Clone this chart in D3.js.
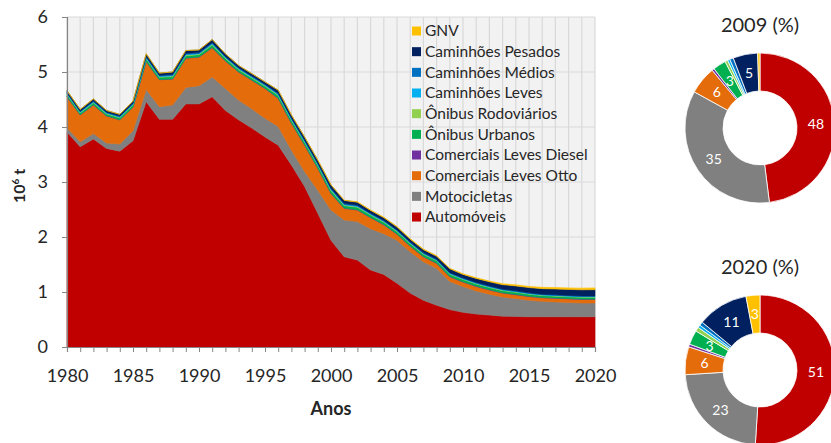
<!DOCTYPE html>
<html>
<head>
<meta charset="utf-8">
<script src="https://cdn.jsdelivr.net/npm/d3@7"></script>
<style>
  body { margin: 0; background: #fff; }
  svg text { font-family: Lato, "Open Sans", sans-serif; fill: #262626; }
</style>
</head>
<body>
<div id="chart"></div>
<script>
var years = d3.range(1980, 2021);

var keys = ["Automóveis", "Motocicletas", "Comerciais Leves Otto", "Comerciais Leves Diesel",
            "Ônibus Urbanos", "Ônibus Rodoviários", "Caminhões Leves", "Caminhões Médios",
            "Caminhões Pesados", "GNV"];
var colors = ["#c00000", "#808080", "#e46c0a", "#7030a0", "#00b050",
              "#92d050", "#00b0f0", "#0070c0", "#002060", "#ffc000"];

// 10^6 t, 1980..2020
var automoveis = [3.91, 3.64, 3.78, 3.61, 3.56, 3.75, 4.46, 4.14, 4.14, 4.42,
                  4.42, 4.55, 4.30, 4.13, 3.98, 3.82, 3.67, 3.31, 2.92, 2.43,
                  1.94, 1.64, 1.58, 1.40, 1.32, 1.16, 0.98, 0.85, 0.76, 0.68,
                  0.63, 0.60, 0.58, 0.56, 0.555, 0.55, 0.55, 0.55, 0.55, 0.55, 0.55];
var motocicletas = [0.07, 0.09, 0.10, 0.10, 0.13, 0.18, 0.22, 0.23, 0.26, 0.30,
                    0.33, 0.36, 0.40, 0.36, 0.35, 0.34, 0.34, 0.27, 0.27, 0.42,
                    0.55, 0.67, 0.70, 0.75, 0.74, 0.78, 0.75, 0.70, 0.67, 0.51,
                    0.47, 0.42, 0.38, 0.35, 0.325, 0.30, 0.28, 0.27, 0.26, 0.25, 0.25];
var comOtto = [0.57, 0.49, 0.52, 0.49, 0.44, 0.43, 0.51, 0.49, 0.47, 0.53,
               0.52, 0.53, 0.50, 0.51, 0.52, 0.54, 0.51, 0.49, 0.48, 0.40,
               0.30, 0.21, 0.21, 0.20, 0.16, 0.11, 0.10, 0.09, 0.09, 0.085,
               0.08, 0.08, 0.075, 0.07, 0.07, 0.067, 0.065, 0.065, 0.065, 0.065, 0.065];
var comDiesel = [0.004, 0.004, 0.004, 0.004, 0.004, 0.004, 0.005, 0.005, 0.005, 0.005,
                 0.005, 0.006, 0.005, 0.005, 0.005, 0.005, 0.006, 0.006, 0.006, 0.006,
                 0.006, 0.006, 0.006, 0.006, 0.006, 0.006, 0.006, 0.006, 0.006, 0.007,
                 0.007, 0.007, 0.007, 0.007, 0.007, 0.006, 0.006, 0.006, 0.006, 0.006, 0.006];
var onibusUrb = [0.035, 0.032, 0.035, 0.033, 0.033, 0.035, 0.042, 0.038, 0.040, 0.042,
                 0.040, 0.045, 0.040, 0.038, 0.038, 0.038, 0.046, 0.046, 0.045, 0.045,
                 0.047, 0.044, 0.044, 0.042, 0.042, 0.041, 0.041, 0.041, 0.041, 0.042,
                 0.041, 0.040, 0.039, 0.038, 0.037, 0.036, 0.035, 0.034, 0.033, 0.033, 0.032];
var onibusRod = [0.012, 0.011, 0.012, 0.011, 0.011, 0.012, 0.015, 0.013, 0.014, 0.015,
                 0.014, 0.016, 0.014, 0.013, 0.013, 0.013, 0.016, 0.016, 0.015, 0.015,
                 0.016, 0.014, 0.014, 0.013, 0.013, 0.012, 0.011, 0.011, 0.011, 0.010,
                 0.010, 0.010, 0.010, 0.010, 0.010, 0.010, 0.009, 0.009, 0.009, 0.009, 0.009];
var camLeves = [0.008, 0.008, 0.008, 0.008, 0.008, 0.008, 0.010, 0.009, 0.009, 0.010,
                0.009, 0.010, 0.009, 0.009, 0.009, 0.009, 0.010, 0.010, 0.010, 0.010,
                0.010, 0.009, 0.009, 0.008, 0.008, 0.008, 0.008, 0.007, 0.007, 0.007,
                0.007, 0.007, 0.007, 0.007, 0.007, 0.006, 0.006, 0.006, 0.006, 0.006, 0.006];
var camMedios = [0.013, 0.012, 0.013, 0.012, 0.012, 0.013, 0.016, 0.014, 0.015, 0.016,
                 0.015, 0.017, 0.015, 0.014, 0.014, 0.014, 0.016, 0.016, 0.016, 0.015,
                 0.016, 0.015, 0.015, 0.013, 0.013, 0.012, 0.012, 0.011, 0.011, 0.010,
                 0.010, 0.010, 0.010, 0.010, 0.010, 0.010, 0.009, 0.009, 0.009, 0.009, 0.009];
var camPesados = [0.038, 0.033, 0.038, 0.032, 0.032, 0.038, 0.052, 0.041, 0.047, 0.052,
                  0.047, 0.056, 0.047, 0.041, 0.041, 0.041, 0.055, 0.054, 0.055, 0.055,
                  0.060, 0.056, 0.055, 0.050, 0.049, 0.051, 0.052, 0.054, 0.054, 0.070,
                  0.064, 0.073, 0.077, 0.081, 0.090, 0.095, 0.101, 0.105, 0.109, 0.112, 0.116];
var gnv = [0, 0, 0, 0, 0, 0, 0, 0, 0, 0,
           0, 0, 0, 0, 0, 0, 0.001, 0.002, 0.003, 0.004,
           0.005, 0.006, 0.007, 0.008, 0.009, 0.010, 0.010, 0.010, 0.010, 0.009,
           0.011, 0.013, 0.015, 0.017, 0.019, 0.022, 0.024, 0.026, 0.028, 0.030, 0.032];

// participação (%) nos anos dos gráficos de rosca, mesma ordem de keys
var pct2009 = [48, 35, 6, 0.5, 2.8, 0.6, 0.5, 0.8, 5.3, 0.5];
var pct2020 = [51, 23, 6, 0.6, 3.1, 0.9, 0.6, 0.8, 11, 3];

var yTicks = [0, 1, 2, 3, 4, 5, 6];
var xTicks = [1980, 1985, 1990, 1995, 2000, 2005, 2010, 2015, 2020];

var series = [automoveis, motocicletas, comOtto, comDiesel, onibusUrb,
              onibusRod, camLeves, camMedios, camPesados, gnv];
var data = years.map(function(y, i) {
  var row = {ano: y};
  keys.forEach(function(k, j) { row[k] = series[j][i]; });
  return row;
});

var svg = d3.select("#chart").append("svg")
  .attr("width", 831)
  .attr("height", 443);

var plot = {left: 67, right: 595, top: 17, bottom: 347};
var x = d3.scaleLinear().domain([1980, 2020]).range([plot.left, plot.right]);
var y = d3.scaleLinear().domain([0, 6]).range([plot.bottom, plot.top]);

// plot area
svg.append("rect")
  .attr("x", plot.left).attr("y", plot.top)
  .attr("width", plot.right - plot.left).attr("height", plot.bottom - plot.top)
  .attr("fill", "#f2f2f2");

svg.append("g").selectAll("line")
  .data(years)
  .enter().append("line")
  .attr("x1", function(d) { return x(d); })
  .attr("x2", function(d) { return x(d); })
  .attr("y1", plot.top).attr("y2", plot.bottom)
  .attr("stroke", "#d9d9d9")
  .attr("stroke-width", 1.2);

svg.append("g").selectAll("line")
  .data(yTicks.slice(1))
  .enter().append("line")
  .attr("x1", plot.left).attr("x2", plot.right)
  .attr("y1", function(d) { return y(d); })
  .attr("y2", function(d) { return y(d); })
  .attr("stroke", "#d9d9d9")
  .attr("stroke-width", 1.2);

var stack = d3.stack().keys(keys);
var layers = stack(data);

var area = d3.area()
  .x(function(d) { return x(d.data.ano); })
  .y0(function(d) { return y(d[0]); })
  .y1(function(d) { return y(d[1]); });

svg.append("g").selectAll("path")
  .data(layers)
  .enter().append("path")
  .attr("d", area)
  .attr("fill", function(d, i) { return colors[i]; })
  .attr("stroke", function(d, i) { return colors[i]; })
  .attr("stroke-width", 0.6);

// axes
var xAxis = d3.axisBottom(x).tickValues(years).tickSize(5)
  .tickFormat(function(d) { return xTicks.indexOf(d) >= 0 ? d : ""; });
var yAxis = d3.axisLeft(y).tickValues(yTicks).tickSize(5).tickFormat(d3.format("d"));

var gx = svg.append("g")
  .attr("transform", "translate(0," + plot.bottom + ")")
  .call(xAxis);
var gy = svg.append("g")
  .attr("transform", "translate(" + plot.left + ",0)")
  .call(yAxis);

[gx, gy].forEach(function(g) {
  g.select(".domain").attr("stroke", "#868686").attr("stroke-width", 1.2);
  g.selectAll(".tick line").attr("stroke", "#868686");
  g.selectAll(".tick text").attr("font-size", 18).attr("fill", "#262626")
    .style("font-family", "Lato, sans-serif");
});
gx.selectAll(".tick text").attr("dy", 0).attr("y", 34.5);
gy.selectAll(".tick text").attr("x", -19);

svg.append("text")
  .attr("transform", "translate(25,186) rotate(-90)")
  .attr("text-anchor", "middle")
  .attr("font-size", 16)
  .attr("font-weight", "bold")
  .html("10<tspan dy='-6' font-size='10'>6</tspan><tspan dy='6'> t</tspan>");

svg.append("text")
  .attr("x", 331).attr("y", 415)
  .attr("text-anchor", "middle")
  .attr("font-size", 18)
  .attr("font-weight", "bold")
  .text("Anos");

// legend, GNV on top
var legend = svg.selectAll(".legend")
  .data(keys.slice().reverse())
  .enter().append("g")
  .attr("class", "legend")
  .attr("transform", function(d, i) { return "translate(412," + (31 + i * 20.67) + ")"; });

legend.append("rect")
  .attr("y", -4.5)
  .attr("width", 9)
  .attr("height", 9)
  .attr("fill", function(d) { return colors[keys.indexOf(d)]; });

legend.append("text")
  .attr("x", 13)
  .attr("dy", "0.35em")
  .attr("font-size", 15.5)
  .text(function(d) { return d; });

// donuts
var pie = d3.pie().sort(null);
var arc = d3.arc().innerRadius(37).outerRadius(75);
var labelArc = d3.arc().innerRadius(56).outerRadius(56);

function donut(values, title, cx, cy) {
  var g = svg.append("g").attr("transform", "translate(" + cx + "," + cy + ")");
  g.append("text")
    .attr("y", -96)
    .attr("text-anchor", "middle")
    .attr("font-size", 20)
    .text(title);
  var arcs = pie(values);
  g.selectAll("path")
    .data(arcs)
    .enter().append("path")
    .attr("d", arc)
    .attr("fill", function(d, i) { return colors[i]; })
    .attr("stroke", "#fff")
    .attr("stroke-width", 0.8);
  g.selectAll(".lbl")
    .data(arcs.filter(function(d) { return d.data >= 2.5; }))
    .enter().append("text")
    .attr("class", "lbl")
    .attr("transform", function(d) { return "translate(" + labelArc.centroid(d) + ")"; })
    .attr("text-anchor", "middle")
    .attr("dy", "0.35em")
    .attr("font-size", 14)
    .style("fill", "#fff")
    .text(function(d) { return Math.round(d.data); });
}

donut(pct2009, "2009 (%)", 760, 128);
donut(pct2020, "2020 (%)", 760, 370);
</script>
</body>
</html>
